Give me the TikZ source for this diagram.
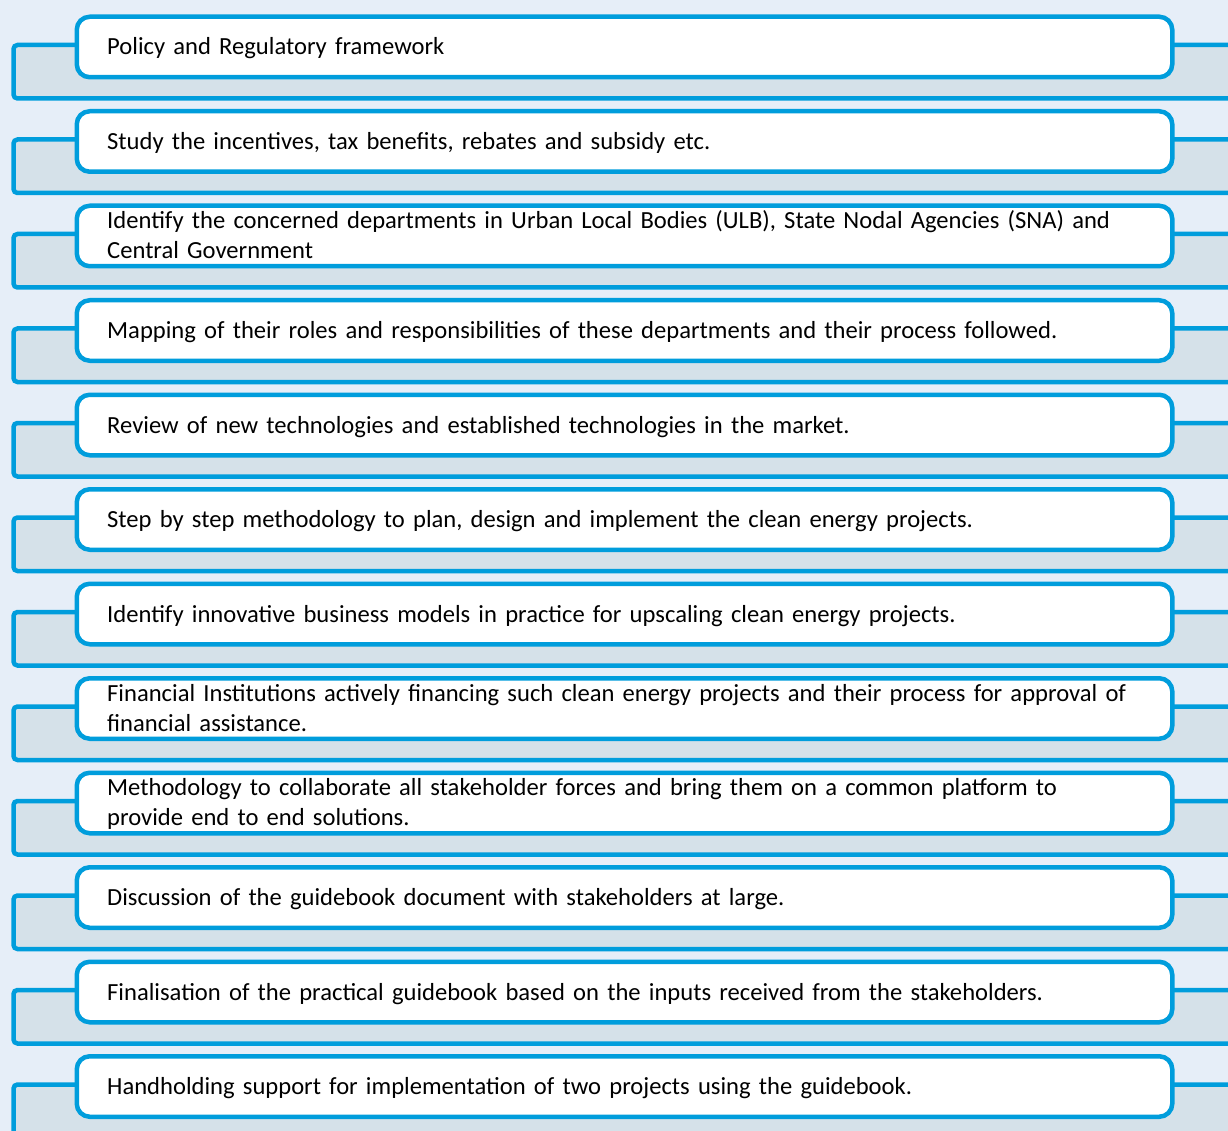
\documentclass[tikz,border=0pt]{standalone}
\usepackage{fontspec}
\setmainfont{Carlito}
\definecolor{bgc}{RGB}{230,238,248}
\definecolor{bandc}{RGB}{213,225,233}
\definecolor{edgec}{RGB}{0,157,220}
\tikzset{
 rowband/.style={draw=edgec, fill=bandc, line width=4.5pt, rounded corners=4pt},
 rowbox/.style={draw=edgec, fill=white, line width=4.5pt, rounded corners=13pt, minimum width=1095.5pt, minimum height=60.5pt, inner sep=0pt, anchor=north west},
 rowtext/.style={inner sep=0pt, anchor=base west, text width=1050pt, align=left, font=\fontsize{24.6}{30}\selectfont}
}
\newcommand\myrow[3]{%
 \pgfmathsetmacro\ry{94.5*#1}
 \draw[rowband] (13.5,45+\ry) rectangle (1260,98.5+\ry);
 \node[rowbox] (box#1) at (74.5,14.5+\ry) {};
 \node[rowtext] (txt#1) at (107,14.5+\ry+#3) {#2};
}
\begin{document}
\begin{tikzpicture}[x=1pt,y=-1pt]
\useasboundingbox (0,0) rectangle (1228,1131);
\fill[bgc] (0,0) rectangle (1228,1131);
\clip (0,0) rectangle (1228,1131);
\myrow{0}{Policy and Regulatory framework}{40.5}
\myrow{1}{Study the incentives, tax benefits, rebates and subsidy etc.}{40.5}
\myrow{2}{Identify the concerned departments in Urban Local Bodies (ULB), State Nodal Agencies (SNA) and\\Central Government}{25}
\myrow{3}{Mapping of their roles and responsibilities of these departments and their process followed.}{40.5}
\myrow{4}{Review of new technologies and established technologies in the market.}{40.5}
\myrow{5}{Step by step methodology to plan, design and implement the clean energy projects.}{40.5}
\myrow{6}{Identify innovative business models in practice for upscaling clean energy projects.}{40.5}
\myrow{7}{Financial Institutions actively financing such clean energy projects and their process for approval of\\financial assistance.}{25}
\myrow{8}{Methodology to collaborate all stakeholder forces and bring them on a common platform to\\provide end to end solutions.}{25}
\myrow{9}{Discussion of the guidebook document with stakeholders at large.}{40.5}
\myrow{10}{Finalisation of the practical guidebook based on the inputs received from the stakeholders.}{40.5}
\myrow{11}{Handholding support for implementation of two projects using the guidebook.}{40.5}
\end{tikzpicture}
\end{document}
